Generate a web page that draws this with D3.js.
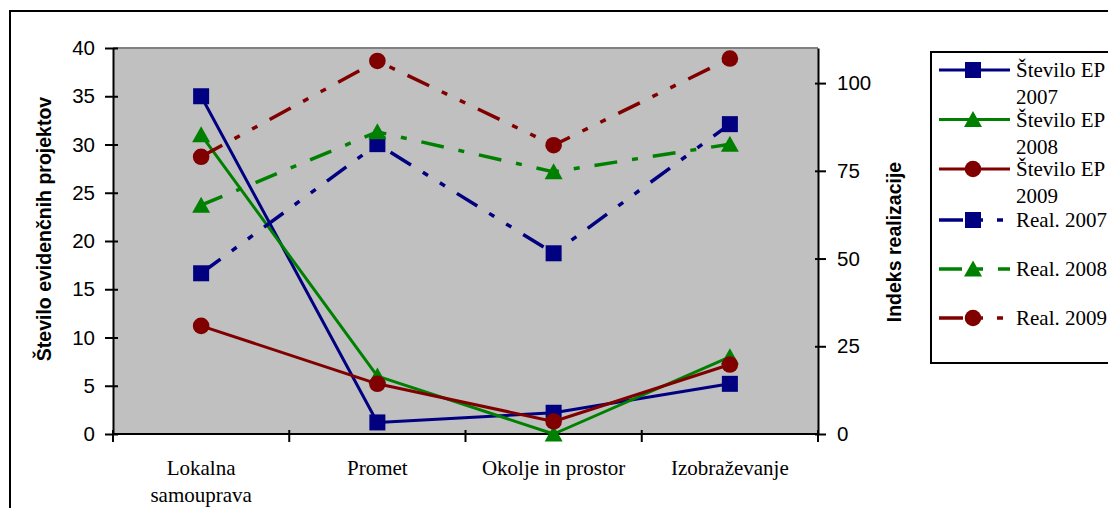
<!DOCTYPE html>
<html>
<head>
<meta charset="utf-8">
<script src="https://cdn.jsdelivr.net/npm/d3@7"></script>
<style>
  html, body { margin: 0; padding: 0; background: #fff; }
  svg { display: block; }
</style>
</head>
<body>
<svg id="chart" width="1108" height="508"></svg>
<script>
// ---- data ----
const categories = ["Lokalna samouprava", "Promet", "Okolje in prostor", "Izobraževanje"];
const categoryLines = [["Lokalna", "samouprava"], ["Promet"], ["Okolje in prostor"], ["Izobraževanje"]];
const count2007 = [35, 1.2, 2.2, 5.2];
const count2008 = [31, 6, 0, 8];
const count2009 = [11.2, 5.2, 1.3, 7.2];
const real2007 = [45.8, 82.6, 51.5, 88.3];
const real2008 = [65.2, 86.1, 74.7, 82.6];
const real2009 = [79.0, 106.3, 82.3, 107.0];
const leftTicks = [0, 5, 10, 15, 20, 25, 30, 35, 40];
const rightTicks = [0, 25, 50, 75, 100];
const seriesNames = ["Število EP 2007", "Število EP 2008", "Število EP 2009", "Real. 2007", "Real. 2008", "Real. 2009"];

// ---- layout ----
const svg = d3.select("#chart");
const plot = { left: 113, right: 818, top: 48, bottom: 434 };
const navy = "#000080", green = "#008000", maroon = "#800000";
const dashDotDot = "24,14,6,14,6,14";
const dashDot = "23,15,6,15";

const series = [
  { name: seriesNames[0], values: count2007, axis: "L", color: navy, marker: "square", dash: null },
  { name: seriesNames[1], values: count2008, axis: "L", color: green, marker: "triangle", dash: null },
  { name: seriesNames[2], values: count2009, axis: "L", color: maroon, marker: "circle", dash: null },
  { name: seriesNames[3], values: real2007, axis: "R", color: navy, marker: "square", dash: dashDotDot },
  { name: seriesNames[4], values: real2008, axis: "R", color: green, marker: "triangle", dash: dashDot },
  { name: seriesNames[5], values: real2009, axis: "R", color: maroon, marker: "circle", dash: dashDotDot }
];

const x = d3.scaleBand().domain(categories).range([plot.left, plot.right]).padding(0);
const yL = d3.scaleLinear().domain([0, 40]).range([plot.bottom, plot.top]);
const yR = d3.scaleLinear().domain([0, 110]).range([plot.bottom, plot.top]);
const cx = c => x(c) + x.bandwidth() / 2;

// white background + outer chart border
svg.append("rect").attr("width", 1108).attr("height", 508).attr("fill", "#fff");
svg.append("rect").attr("x", 10).attr("y", 11).attr("width", 1300).attr("height", 700)
  .attr("fill", "none").attr("stroke", "#000").attr("stroke-width", 2);

// plot area
svg.append("rect").attr("x", plot.left).attr("y", plot.top)
  .attr("width", plot.right - plot.left).attr("height", plot.bottom - plot.top)
  .attr("fill", "#C0C0C0");
svg.append("line").attr("x1", plot.left).attr("x2", plot.right)
  .attr("y1", plot.top).attr("y2", plot.top).attr("stroke", "#808080").attr("stroke-width", 2);

const tickFont = "'Liberation Sans', Arial, sans-serif";
const serif = "'Liberation Serif', 'Times New Roman', serif";

// left axis
const gL = svg.append("g").attr("transform", `translate(${plot.left},0)`)
  .call(d3.axisLeft(yL).tickValues(leftTicks).tickSize(8).tickPadding(10).tickSizeOuter(0));
gL.select(".domain").attr("stroke", "#000").attr("stroke-width", 2);
gL.selectAll(".tick line").attr("x1", 5).attr("x2", -8).attr("stroke", "#000").attr("stroke-width", 2);
gL.selectAll(".tick text").attr("font-family", tickFont).attr("font-size", 20.5).attr("fill", "#000");

// right axis
const gR = svg.append("g").attr("transform", `translate(${plot.right},0)`)
  .call(d3.axisRight(yR).tickValues(rightTicks).tickSize(8).tickPadding(11).tickSizeOuter(0));
gR.select(".domain").attr("stroke", "#000").attr("stroke-width", 2);
gR.selectAll(".tick line").attr("x1", -3).attr("x2", 8).attr("stroke", "#000").attr("stroke-width", 2);
gR.selectAll(".tick text").attr("font-family", tickFont).attr("font-size", 20.5).attr("fill", "#000");

// bottom axis
svg.append("line").attr("x1", plot.left - 1).attr("x2", plot.right + 1)
  .attr("y1", plot.bottom).attr("y2", plot.bottom).attr("stroke", "#000").attr("stroke-width", 2);
const edges = categories.map(c => x(c)).concat([x(categories[categories.length - 1]) + x.bandwidth()]);
svg.selectAll(".xtick").data(edges).enter().append("line")
  .attr("x1", d => d).attr("x2", d => d)
  .attr("y1", plot.bottom - 4).attr("y2", plot.bottom + 8)
  .attr("stroke", "#000").attr("stroke-width", 2);
categories.forEach((c, i) => {
  const t = svg.append("text").attr("x", cx(c)).attr("text-anchor", "middle")
    .attr("font-family", serif).attr("font-size", 21).attr("fill", "#000");
  categoryLines[i].forEach((ln, j) => {
    t.append("tspan").attr("x", cx(c)).attr("y", 475 + j * 27).text(ln);
  });
});

// axis titles
svg.append("text").attr("transform", "translate(51,229) rotate(-90)")
  .attr("text-anchor", "middle").attr("font-family", tickFont).attr("font-weight", "bold")
  .attr("font-size", 19.5).attr("fill", "#000").text("Število evidenčnih projektov");
svg.append("text").attr("transform", "translate(901,242) rotate(-90)")
  .attr("text-anchor", "middle").attr("font-family", tickFont).attr("font-weight", "bold")
  .attr("font-size", 19.5).attr("fill", "#000").text("Indeks realizacije");

// marker helper
function drawMarker(g, type, px, py, color) {
  if (type === "square") {
    g.append("rect").attr("x", px - 8).attr("y", py - 8).attr("width", 16).attr("height", 16).attr("fill", color);
  } else if (type === "circle") {
    g.append("circle").attr("cx", px).attr("cy", py).attr("r", 8.3).attr("fill", color);
  } else {
    g.append("path").attr("d", `M${px},${py - 8.5}L${px + 9},${py + 7.5}L${px - 9},${py + 7.5}Z`).attr("fill", color);
  }
}

// series
series.forEach(s => {
  const y = s.axis === "L" ? yL : yR;
  const g = svg.append("g");
  const line = d3.line().x((d, i) => cx(categories[i])).y(d => y(d));
  g.append("path").datum(s.values).attr("d", line)
    .attr("fill", "none").attr("stroke", s.color)
    .attr("stroke-width", s.dash ? 3.5 : 3)
    .attr("stroke-dasharray", s.dash)
    .attr("stroke-linejoin", "round");
  s.values.forEach((v, i) => drawMarker(g, s.marker, cx(categories[i]), y(v), s.color));
});

// legend
svg.append("rect").attr("x", 931).attr("y", 52).attr("width", 300).attr("height", 311)
  .attr("fill", "#fff").attr("stroke", "#000").attr("stroke-width", 2);
const legendY = [70, 119.5, 169, 220, 269, 318];
series.forEach((s, i) => {
  const g = svg.append("g");
  const ly = legendY[i];
  g.append("line").attr("x1", 939).attr("x2", 1010).attr("y1", ly).attr("y2", ly)
    .attr("stroke", s.color).attr("stroke-width", s.dash ? 3.5 : 3)
    .attr("stroke-dasharray", s.dash);
  drawMarker(g, s.marker, 973, ly, s.color);
  const parts = s.dash ? [s.name] : [s.name.replace(/ \d{4}$/, ""), s.name.match(/\d{4}$/)[0]];
  const t = g.append("text").attr("font-family", serif).attr("font-size", 21).attr("fill", "#000");
  parts.forEach((p, j) => {
    t.append("tspan").attr("x", 1016).attr("y", ly + 7 + j * 27).text(p);
  });
});
</script>
</body>
</html>
